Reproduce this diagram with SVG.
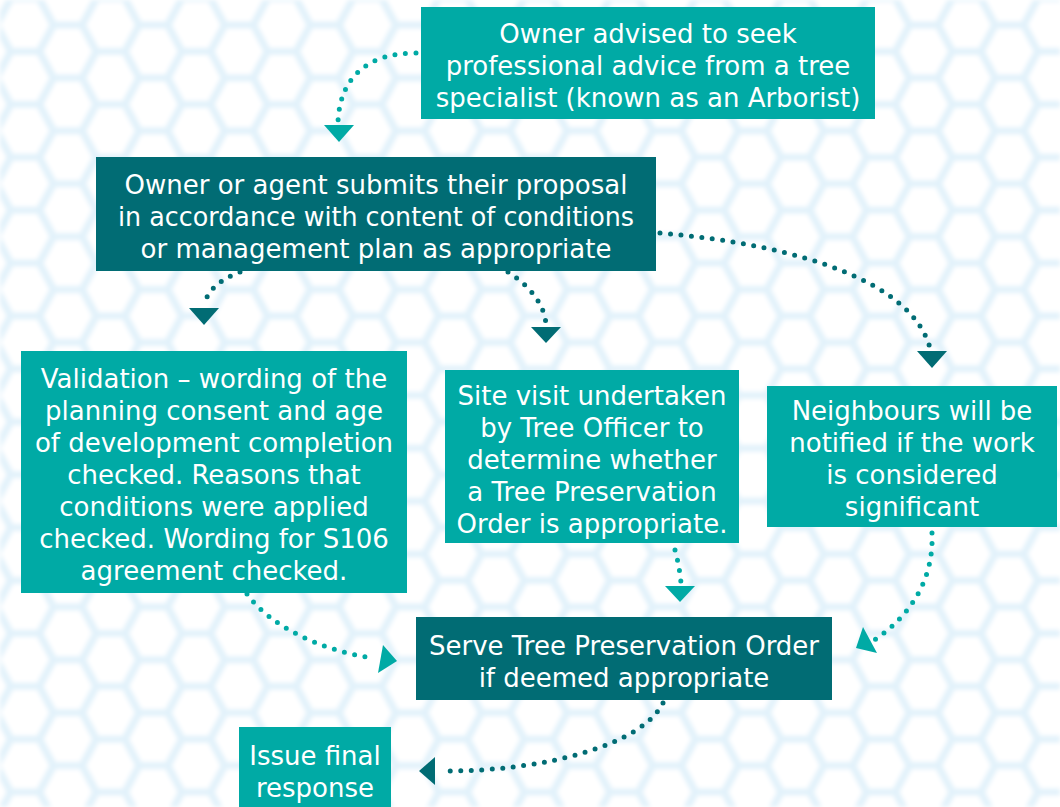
<svg xmlns="http://www.w3.org/2000/svg" width="1060" height="807" viewBox="0 0 1060 807">
<style>
.lt{fill:#00aaa5}
.dk{fill:#016c74}
.t{font-family:"DejaVu Sans",sans-serif;font-size:26px;fill:#ffffff;text-anchor:middle}
.cl{fill:none;stroke:#00aaa5;stroke-width:5;stroke-linecap:round;stroke-dasharray:0 10.5}
.cd{fill:none;stroke:#016c74;stroke-width:5;stroke-linecap:round;stroke-dasharray:0 10.5}
.hx{fill:none;stroke:#e2f2fb;stroke-width:7;stroke-linejoin:round}
</style>
<defs>
<path id="h" d="M-28.53 0 L-14.27 -26.45 L14.27 -26.45 L28.53 0 L14.27 26.45 L-14.27 26.45 Z"/>
<pattern id="bg" patternUnits="userSpaceOnUse" x="25" y="25" width="85.6" height="52.9">
<rect width="85.6" height="52.9" fill="#ffffff"/>
<use href="#h" x="0" y="0" class="hx"/>
<use href="#h" x="85.6" y="0" class="hx"/>
<use href="#h" x="0" y="52.9" class="hx"/>
<use href="#h" x="85.6" y="52.9" class="hx"/>
<use href="#h" x="42.8" y="26.45" class="hx"/>
</pattern>
<filter id="soft" x="0" y="0" width="1" height="1"><feGaussianBlur stdDeviation="2"/></filter>
</defs>
<rect width="1060" height="807" fill="#ffffff"/>
<rect width="1060" height="807" fill="url(#bg)" filter="url(#soft)"/>
<g id="connectors">
<path class="cl" d="M416 53 C370 53 340 75 338 122"/>
<polygon class="lt" points="324,125 354,125 339,142"/>
<path class="cd" d="M240 272 C218 280 206 293 204 306"/>
<polygon class="dk" points="189,308 219,308 204,325"/>
<path class="cd" d="M508 272 C530 286 545 305 546 325"/>
<polygon class="dk" points="531,327 561,327 546,343"/>
<path class="cd" d="M660 233 C800 245 912 282 930 348"/>
<polygon class="dk" points="917,351 947,351 932,368"/>
<path class="cl" d="M247 594 C270 626 320 650 372 658"/>
<polygon class="lt" points="383,645 397,661 378,673"/>
<path class="cl" d="M675 550 C678 561 680 572 681 583"/>
<polygon class="lt" points="665,586 695,586 680,602"/>
<path class="cl" d="M932 533 C934 578 912 615 873 641"/>
<polygon class="lt" points="863,627 877,653 856,648"/>
<path class="cd" d="M663 703 C642 745 545 771 446 771"/>
<polygon class="dk" points="435,757 435,785 419,771"/>
</g>
<g id="n1">
<rect class="lt" x="421" y="7" width="454" height="112"/>
<text class="t" x="648" y="43">Owner advised to seek</text>
<text class="t" x="648" y="75">professional advice from a tree</text>
<text class="t" x="648" y="107">specialist (known as an Arborist)</text>
</g>
<g id="n2">
<rect class="dk" x="96" y="157" width="560" height="114"/>
<text class="t" x="376" y="194">Owner or agent submits their proposal</text>
<text class="t" x="376" y="226" textLength="516" lengthAdjust="spacingAndGlyphs">in accordance with content of conditions</text>
<text class="t" x="376" y="258">or management plan as appropriate</text>
</g>
<g id="n3">
<rect class="lt" x="21" y="351" width="386" height="242"/>
<text class="t" x="214" y="388">Validation – wording of the</text>
<text class="t" x="214" y="420">planning consent and age</text>
<text class="t" x="214" y="452">of development completion</text>
<text class="t" x="214" y="484">checked. Reasons that</text>
<text class="t" x="214" y="516">conditions were applied</text>
<text class="t" x="214" y="548">checked. Wording for S106</text>
<text class="t" x="214" y="580">agreement checked.</text>
</g>
<g id="n4">
<rect class="lt" x="445" y="370" width="294" height="173"/>
<text class="t" x="592" y="405">Site visit undertaken</text>
<text class="t" x="592" y="437">by Tree Officer to</text>
<text class="t" x="592" y="469">determine whether</text>
<text class="t" x="592" y="501">a Tree Preservation</text>
<text class="t" x="592" y="533">Order is appropriate.</text>
</g>
<g id="n5">
<rect class="lt" x="767" y="386" width="290" height="141"/>
<text class="t" x="912" y="420">Neighbours will be</text>
<text class="t" x="912" y="452">notified if the work</text>
<text class="t" x="912" y="484">is considered</text>
<text class="t" x="912" y="516">significant</text>
</g>
<g id="n6">
<rect class="dk" x="416" y="617" width="416" height="83"/>
<text class="t" x="624" y="655">Serve Tree Preservation Order</text>
<text class="t" x="624" y="687">if deemed appropriate</text>
</g>
<g id="n7">
<rect class="lt" x="239" y="727" width="152" height="80"/>
<text class="t" x="315" y="765">Issue final</text>
<text class="t" x="315" y="797">response</text>
</g>
</svg>
